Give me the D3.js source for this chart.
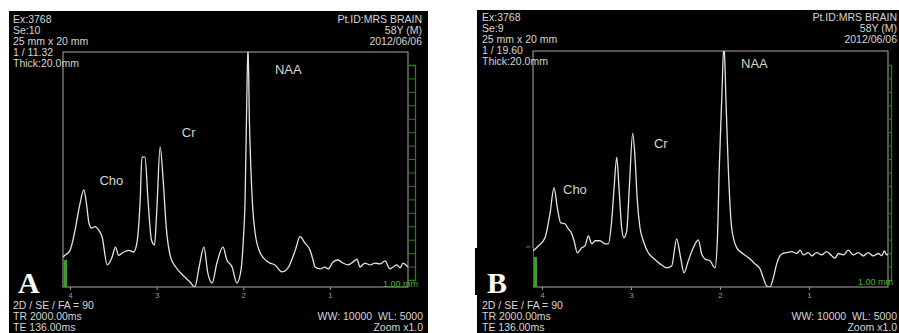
<!DOCTYPE html>
<html><head><meta charset="utf-8">
<script src="https://cdn.jsdelivr.net/npm/d3@7"></script>
<style>body{margin:0;background:#fff}svg{display:block}</style>
</head><body><svg id="c" width="899" height="333"></svg>
<script>
// ---------- data ----------
const ppmTicks = [4, 3, 2, 1];
const peakNames = ["Cho", "Cr", "NAA"];
const panelLetters = ["A", "B"];

// Spectrum A (ppm, relative amplitude; 100 = top of frame)
const ppmA = [4.08,4.058,4.00,3.94,3.89,3.84,3.81,3.78,3.75,3.71,3.67,3.63,3.57,3.52,3.475,3.44,3.38,3.32,3.265,3.23,3.19,3.17,3.135,3.10,3.06,3.025,3.00,2.96,2.925,2.89,2.84,2.78,2.70,2.615,2.56,2.51,2.455,2.41,2.36,2.305,2.235,2.19,2.13,2.075,2.027,2.00,1.98,1.964,1.946,1.93,1.91,1.89,1.865,1.81,1.715,1.635,1.555,1.485,1.40,1.346,1.289,1.231,1.196,1.173,1.115,1.058,1.023,0.965,0.908,0.85,0.792,0.735,0.689,0.654,0.596,0.538,0.481,0.423,0.365,0.308,0.273,0.227,0.192,0.158,0.112,0.10];
const ampA = [12.8,13.5,15.6,24.5,34.5,41.3,35.5,27.0,25.1,25.7,24.3,21.4,9.4,12.1,17.0,13.5,14.9,15.6,14.9,18.3,37.0,55.3,55.3,37.0,20.0,17.9,31.5,59.6,45.4,25.6,12.8,8.5,5.1,2.1,0,8.5,17.0,6.0,1.7,10.2,17.0,11.5,8.5,1.7,7.2,20,37,71,103,71,47.7,32.8,23.4,14.9,10.6,9.4,6.4,8.1,15.7,21.4,18.7,15.7,11.5,8.5,7.7,8.5,7.7,10.6,11.5,10.2,9.4,10.6,11.9,8.5,10.2,9.4,10.2,9.8,11.1,7.7,8.5,9.4,8.1,10.2,8.9,8.5];

// Spectrum B
const ppmB = [4.10,4.042,3.966,3.91,3.865,3.828,3.79,3.742,3.705,3.666,3.64,3.603,3.554,3.517,3.48,3.44,3.404,3.348,3.292,3.255,3.217,3.19,3.16,3.135,3.105,3.079,3.048,3.019,2.981,2.955,2.929,2.899,2.862,2.806,2.75,2.674,2.599,2.543,2.487,2.442,2.404,2.356,2.30,2.244,2.206,2.169,2.112,2.056,2.03,2.008,1.981,1.955,1.933,1.907,1.869,1.812,1.738,1.663,1.607,1.551,1.513,1.475,1.438,1.401,1.363,1.307,1.251,1.194,1.138,1.101,1.064,1.008,0.970,0.914,0.857,0.801,0.745,0.708,0.670,0.615,0.558,0.502,0.446,0.390,0.334,0.278,0.221,0.183,0.154,0.127,0.112];
const ampB = [15.3,17.4,20.9,31.1,42.1,33.6,27.2,26.8,24.7,22.6,19.6,14.5,16.6,17.4,21.7,18.3,19.6,19.6,18.3,18.3,28.1,42.1,54.9,42.1,25.1,20.9,23.8,42.1,65.1,54.9,36.6,25.1,19.6,14.5,12.3,9.8,8.1,8.9,20.4,12.3,6.0,11.1,16.6,20.0,14.0,11.9,11.1,8.1,19.6,50.6,79.1,103,79.1,50.6,25.1,16.6,14.0,11.9,9.8,7.7,3.8,0.4,0,3.9,9.8,14.0,14.6,15.0,14.2,15.6,13.6,14.6,13.2,14.6,13.6,15.0,13.2,12.2,14.2,13.6,15.6,13.6,14.6,13.2,14.6,13.2,14.2,13.2,15.3,13.6,14.0];

const infoTopLeftA = ["Ex:3768", "Se:10", "25 mm x 20 mm", "1 / 11.32", "Thick:20.0mm"];
const infoTopLeftB = ["Ex:3768", "Se:9", "25 mm x 20 mm", "1 / 19.60", "Thick:20.0mm"];
const infoTopRight = ["Pt.ID:MRS BRAIN", "58Y (M)", "2012/06/06"];
const infoBottomLeft = ["2D / SE / FA = 90", "TR 2000.00ms", "TE 136.00ms"];
const infoBottomRight = ["WW: 10000  WL: 5000", "Zoom x1.0"];
const scaleLabel = "1.00 mm";

// ---------- layout ----------
const panels = [
  { letter: panelLetters[0], ppm: ppmA, amp: ampA, tl: infoTopLeftA,
    bg: [9, 11, 419, 322], f: { l: 63, r: 408, t: 52, b: 287 }, tickPx: [70, 330],
    fs: 10.5, tlX: 13, tlY: 22.5, trX: 422, blY: 309, brX: 423, brY: 320, lh: 11,
    gX: 415, gTop: 65, gBot: 280, bar: [64, 260, 3, 27], scaleTxt: [383, 287],
    letterPos: [18, 293], box: null,
    labels: [[3.66, 43.4], [2.71, 63.8], [1.635, 90.6]] },
  { letter: panelLetters[1], ppm: ppmB, amp: ampB, tl: infoTopLeftB,
    bg: [477, 10, 422, 323], f: { l: 533, r: 888, t: 51, b: 287 }, tickPx: [542, 809],
    fs: 10.5, tlX: 482, tlY: 20.5, trX: 897, blY: 308.5, brX: 897, brY: 319.5, lh: 11,
    gX: 891, gTop: 65, gBot: 280, bar: [534, 257, 3, 30], scaleTxt: [858, 285],
    letterPos: [487, 293], box: [475, 248, 58, 47],
    labels: [[3.764, 39.6], [2.742, 59.1], [1.764, 92.8]] }
];

const svg = d3.select("#c");
svg.append("rect").attr("width", 899).attr("height", 333).attr("fill", "#fff");
const defs = svg.append("defs");
const font = "'Liberation Sans', Arial, sans-serif";

panels.forEach((p, i) => {
  const g = svg.append("g");
  g.append("rect").attr("x", p.bg[0]).attr("y", p.bg[1]).attr("width", p.bg[2]).attr("height", p.bg[3]).attr("fill", "#000");

  const x = d3.scaleLinear().domain([4, 1]).range(p.tickPx);
  const y = d3.scaleLinear().domain([0, 100]).range([p.f.b, p.f.t]);

  // frame
  g.append("rect").attr("x", p.f.l).attr("y", p.f.t).attr("width", p.f.r - p.f.l).attr("height", p.f.b - p.f.t)
    .attr("fill", "none").attr("stroke", "#a9a9a9").attr("stroke-width", 1);

  // x axis ticks
  const ax = g.append("g").attr("transform", `translate(0,${p.f.b})`)
    .call(d3.axisBottom(x).tickValues(ppmTicks).tickSize(3).tickFormat(d3.format("d")));
  ax.select(".domain").remove();
  ax.selectAll("line").attr("stroke", "#999");
  ax.selectAll("text").attr("fill", "#9a9a9a").attr("font-size", 8).attr("font-family", font).attr("dy", "0.6em");

  // green right scale
  const gs = d3.scaleLinear().domain([0, 16]).range([p.gBot, p.gTop]);
  const ga = g.append("g").attr("transform", `translate(${p.gX},0)`)
    .call(d3.axisLeft(gs).ticks(16).tickSize(p.gX - p.f.r).tickFormat(""));
  ga.select(".domain").attr("stroke", "#2f7a22").attr("stroke-width", 1.3);
  ga.selectAll("line").attr("stroke", "#2f7a22");
  g.append("text").attr("x", p.scaleTxt[0]).attr("y", p.scaleTxt[1]).text(scaleLabel)
    .attr("fill", "#47b02c").attr("font-size", 9).attr("font-family", font);

  // green bar
  g.append("rect").attr("x", p.bar[0]).attr("y", p.bar[1]).attr("width", p.bar[2]).attr("height", p.bar[3]).attr("fill", "#3f9f2c");

  // spectrum
  const cid = "clip" + i;
  defs.append("clipPath").attr("id", cid).append("rect")
    .attr("x", p.f.l).attr("y", p.f.t).attr("width", p.f.r - p.f.l).attr("height", p.f.b - p.f.t);
  const pts = d3.zip(p.ppm, p.amp);
  g.append("path").datum(pts).attr("clip-path", `url(#${cid})`)
    .attr("d", d3.line().x(d => x(d[0])).y(d => y(d[1])).curve(d3.curveMonotoneX))
    .attr("fill", "none").attr("stroke", "#e4e4e4").attr("stroke-width", 1.3).attr("stroke-linejoin", "round");

  // peak labels
  peakNames.forEach((n, k) => {
    g.append("text").attr("x", x(p.labels[k][0])).attr("y", y(p.labels[k][1])).text(n)
      .attr("fill", "#d4d4d4").attr("font-size", 13).attr("font-family", font);
  });

  // info texts
  const txt = (arr, tx, ty, anchor) => arr.forEach((s, k) => {
    g.append("text").attr("x", tx).attr("y", ty + k * p.lh).text(s)
      .attr("text-anchor", anchor).attr("fill", "#d6d6d6").attr("font-size", p.fs)
      .attr("font-family", font).attr("xml:space", "preserve").style("white-space", "pre");
  });
  txt(p.tl, p.tlX, p.tlY, "start");
  txt(infoTopRight, p.trX, p.tlY, "end");
  txt(infoBottomLeft, p.tlX, p.blY, "start");
  txt(infoBottomRight, p.brX, p.brY, "end");

  // B "0" label partially hidden
  if (p.box) {
    g.append("text").attr("x", p.f.l - 7).attr("y", 251).text("0").attr("fill", "#9a9a9a")
      .attr("font-size", 8).attr("font-family", font);
    g.append("rect").attr("x", p.box[0]).attr("y", p.box[1]).attr("width", p.box[2]).attr("height", p.box[3]).attr("fill", "#000");
  }
  // panel letter
  g.append("text").attr("x", p.letterPos[0]).attr("y", p.letterPos[1]).text(p.letter)
    .attr("fill", "#fff").attr("font-size", 30).attr("font-weight", "bold")
    .attr("font-family", "'Liberation Serif', 'Times New Roman', serif");
});
</script></body></html>
